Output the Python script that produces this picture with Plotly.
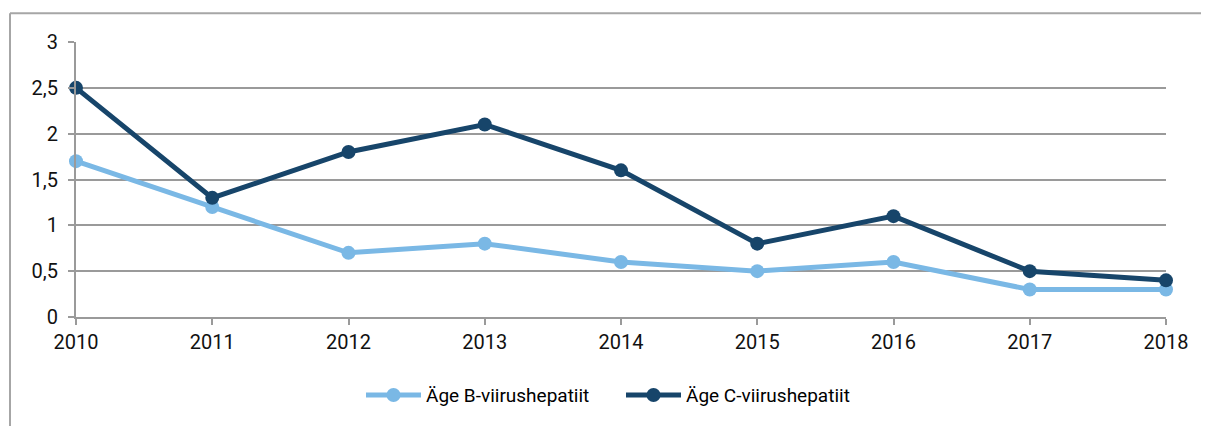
import plotly.graph_objects as go

years = [2010, 2011, 2012, 2013, 2014, 2015, 2016, 2017, 2018]
hep_b = [1.7, 1.2, 0.7, 0.8, 0.6, 0.5, 0.6, 0.3, 0.3]
hep_c = [2.5, 1.3, 1.8, 2.1, 1.6, 0.8, 1.1, 0.5, 0.4]
name_b = "Äge B-viirushepatiit"
name_c = "Äge C-viirushepatiit"
y_ticks = [0, 0.5, 1, 1.5, 2, 2.5, 3]

# page has an 8px body margin, so the figure is offset by (8, 8)
W, H = 1201, 418
L, R, T, B = 68, 43, 34, 107
pw, ph = W - L - R, H - T - B

fig = go.Figure()
fig.add_trace(go.Scatter(x=years, y=hep_b, name=name_b, mode="lines+markers",
                         line=dict(color="#7ab8e5", width=5),
                         marker=dict(size=14, color="#7ab8e5"), cliponaxis=False))
fig.add_trace(go.Scatter(x=years, y=hep_c, name=name_c, mode="lines+markers",
                         line=dict(color="#17456a", width=5),
                         marker=dict(size=14, color="#17456a"), cliponaxis=False))

grid = "#9a9a9a"
fig.update_layout(
    width=W, height=H,
    margin=dict(l=L, r=R, t=T, b=B),
    paper_bgcolor="white", plot_bgcolor="white",
    separators=", ",
    font=dict(family="Roboto, sans-serif", size=20, color="#111111"),
    showlegend=True,
    legend=dict(orientation="h", x=0.5, xanchor="center", y=-0.215, yanchor="top",
                font=dict(size=19, color="#000000"), itemwidth=55, traceorder="normal",
                entrywidth=190, entrywidthmode="pixels"),
    xaxis=dict(range=[2010, 2018], tickmode="array", tickvals=years,
               ticktext=[str(y) for y in years], showgrid=False,
               showline=True, linecolor=grid, linewidth=2,
               ticks="outside", ticklen=6, tickcolor=grid, tickwidth=2,
               zeroline=False, tickfont=dict(size=20)),
    yaxis=dict(range=[0, 3], tickmode="array", tickvals=y_ticks,
               ticktext=[str(v).replace(".", ",") if v != int(v) else str(int(v)) for v in y_ticks],
               showgrid=True, gridcolor=grid, gridwidth=2,
               showline=True, linecolor=grid, linewidth=2,
               ticks="outside", ticklen=6, tickcolor=grid, tickwidth=2,
               ticklabelstandoff=6, zeroline=False, tickfont=dict(size=20)),
)

# outer frame (top and left edges visible)
x_left = (2 - L) / pw
x_right = (W + 5 - L) / pw
y_top = (H - B - 5) / ph
y_bot = (H - B - (H + 5)) / ph
fig.add_shape(type="line", xref="paper", yref="paper", x0=x_left, x1=x_right, y0=y_top, y1=y_top,
              line=dict(color="#a6a6a6", width=2))
fig.add_shape(type="line", xref="paper", yref="paper", x0=x_left, x1=x_left, y0=y_top, y1=y_bot,
              line=dict(color="#a6a6a6", width=2))

fig.write_html("out.html")
